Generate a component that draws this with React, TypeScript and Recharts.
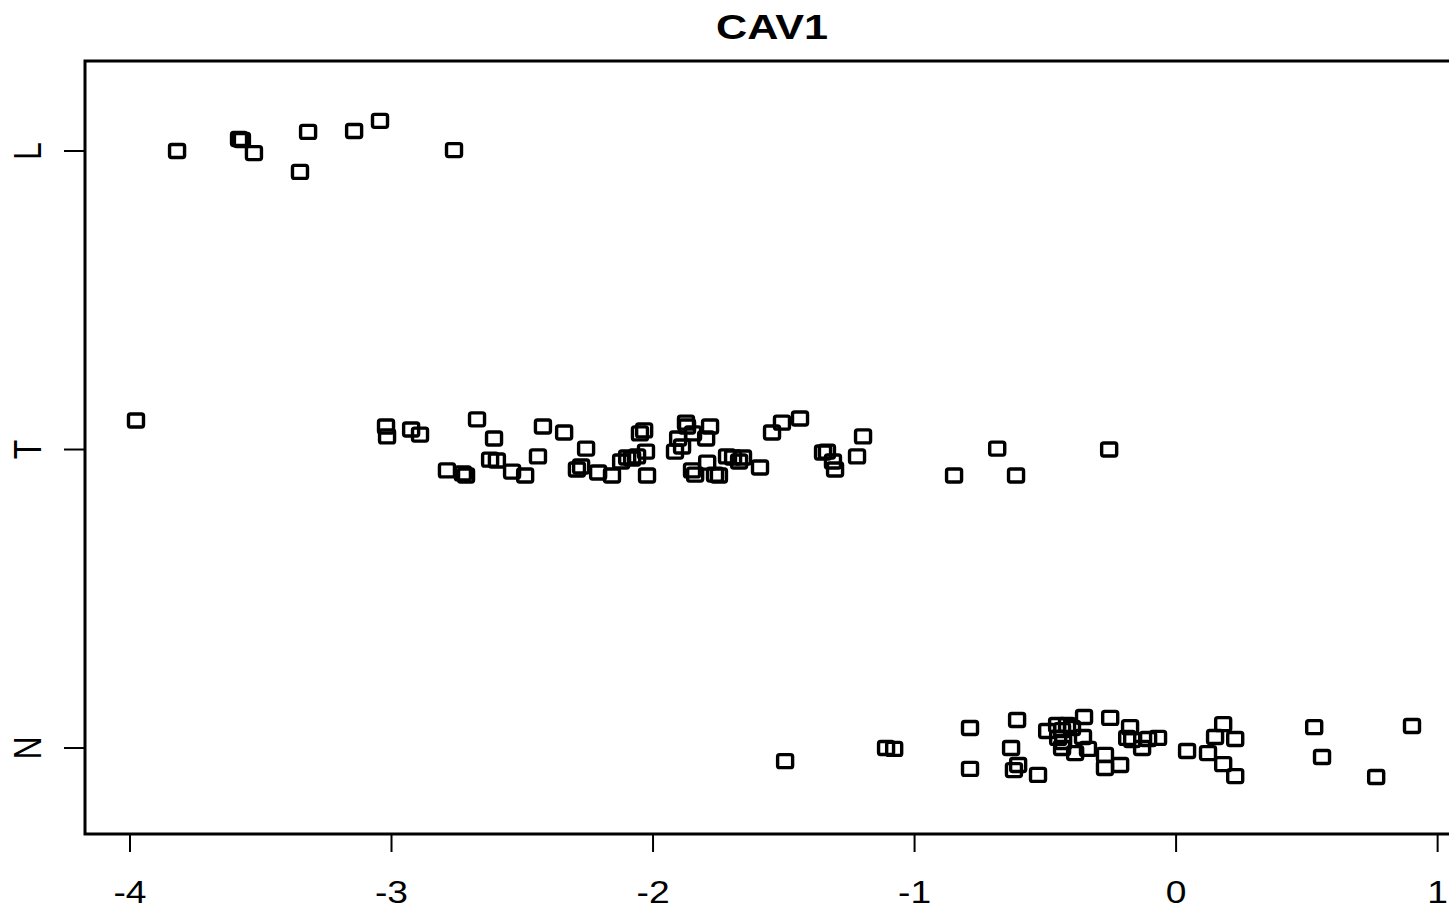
import { ScatterChart, Scatter, XAxis, YAxis, ReferenceArea } from 'recharts';

const groups = ['N', 'T', 'L'];
const xTicks = [-4, -3, -2, -1, 0, 1];
const xDomain = [-4.172, 1.097];
const yDomain = [0.712, 3.3015];

// L group (level 3)
const lValues = [-3.82, -3.583, -3.572, -3.526, -3.35, -3.319, -3.143, -3.044, -2.761];
const lJitter = [0.0, 0.04, 0.037, -0.007, -0.07, 0.064, 0.067, 0.101, 0.003];

// T group (level 2)
const tValues = [
  -3.977, -3.021, -3.017, -2.925, -2.891, -2.788, -2.727, -2.715, -2.673, -2.608,
  -2.623, -2.597, -2.539, -2.489, -2.44, -2.421, -2.34, -2.256, -2.291, -2.275,
  -2.21, -2.157, -2.122, -2.099, -2.08, -2.061, -2.05, -2.034, -2.027, -2.023,
  -1.916, -1.904, -1.874, -1.87, -1.889, -1.847, -1.782, -1.797, -1.851, -1.839,
  -1.793, -1.763, -1.748, -1.717, -1.694, -1.656, -1.591, -1.545, -1.507, -1.438,
  -1.35, -1.335, -1.312, -1.304, -1.22, -1.197, -0.849, -0.684, -0.612, -0.256,
  -1.671,
];
const tJitter = [
  0.097, 0.077, 0.044, 0.067, 0.05, -0.07, -0.08, -0.087, 0.101, 0.037,
  -0.034, -0.037, -0.074, -0.087, -0.023, 0.077, 0.057, 0.003, -0.067, -0.057,
  -0.077, -0.087, -0.04, -0.027, -0.03, -0.023, 0.054, 0.064, -0.007, -0.087,
  -0.007, 0.037, 0.09, 0.077, 0.01, 0.054, 0.077, 0.037, -0.07, -0.084,
  -0.044, -0.084, -0.087, -0.023, -0.027, -0.027, -0.06, 0.057, 0.09, 0.104,
  -0.01, -0.007, -0.04, -0.067, -0.023, 0.044, -0.087, 0.003, -0.087, 0.0,
  -0.04,
];

// N group (level 1)
const nValues = [
  -1.495, -1.109, -1.078, -0.788, -0.788, -0.608, -0.631, -0.62, -0.604, -0.528,
  -0.493, -0.455, -0.436, -0.417, -0.398, -0.451, -0.432, -0.436, -0.386, -0.352,
  -0.356, -0.337, -0.272, -0.272, -0.214, -0.252, -0.176, -0.187, -0.168, -0.13,
  -0.107, -0.069, 0.042, 0.122, 0.18, 0.149, 0.226, 0.18, 0.226, 0.528,
  0.558, 0.765, 0.902,
];
const nJitter = [
  -0.044, 0.0, -0.003, 0.067, -0.07, 0.094, 0.0, -0.074, -0.057, -0.09,
  0.057, 0.077, 0.06, 0.077, 0.067, 0.034, 0.02, 0.0, -0.017, 0.104,
  0.037, -0.003, -0.023, -0.067, -0.057, 0.101, 0.07, 0.034, 0.027, 0.0,
  0.03, 0.034, -0.01, -0.017, 0.08, 0.037, 0.03, -0.054, -0.094, 0.07,
  -0.03, -0.097, 0.074,
];

const toPoints = (values: number[], jitter: number[], level: number) =>
  values.map((v, i) => ({ x: v, y: level + jitter[i] }));

const nData = toPoints(nValues, nJitter, 1);
const tData = toPoints(tValues, tJitter, 2);
const lData = toPoints(lValues, lJitter, 3);

const FONT = '"Liberation Sans", Arial, sans-serif';

const Box = (props: any) => {
  const { cx, cy } = props;
  if (cx == null || cy == null) return null;
  return (
    <rect x={cx - 7.5} y={cy - 6.5} width={15} height={13} rx={2}
      fill="none" stroke="#000" strokeWidth={3.4} />
  );
};

const XTick = (props: any) => {
  const { x, y, payload } = props;
  return (
    <text transform={`translate(${x},${y}) scale(1.2,1)`} textAnchor="middle"
      fontFamily={FONT} fontSize={31} fill="#000">
      {payload.value}
    </text>
  );
};

const YTick = (props: any) => {
  const { x, y, payload } = props;
  return (
    <text transform={`translate(${x},${y}) scale(1.2,1) rotate(-90)`} textAnchor="middle"
      fontFamily={FONT} fontSize={32} fill="#000">
      {groups[payload.value - 1]}
    </text>
  );
};

export default function App() {
  return (
    <div style={{ position: 'fixed', left: 0, top: 0, width: 1449, height: 910, overflow: 'hidden', background: '#fff' }}>
      <svg width={1449} height={60} style={{ position: 'absolute', left: 0, top: 0 }}>
        <text transform="translate(772,39) scale(1.2,1)" textAnchor="middle"
          fontFamily={FONT} fontWeight="bold" fontSize={36} fill="#000">CAV1</text>
      </svg>
      <ScatterChart width={1480} height={910} margin={{ top: 61, right: 17, bottom: 0, left: 0 }}
        style={{ position: 'absolute', left: 0, top: 0 }}>
        <XAxis type="number" dataKey="x" domain={xDomain} ticks={xTicks} allowDataOverflow
          height={76} axisLine={false} tickSize={18} tickMargin={51}
          tickLine={{ stroke: '#000', strokeWidth: 2 }} tick={<XTick />} />
        <YAxis type="number" dataKey="y" domain={yDomain} ticks={[1, 2, 3]} allowDataOverflow
          width={85} axisLine={false} tickSize={21} tickMargin={23}
          tickLine={{ stroke: '#000', strokeWidth: 2 }} tick={<YTick />} />
        <ReferenceArea x1={xDomain[0]} x2={xDomain[1]} y1={yDomain[0]} y2={yDomain[1]}
          fill="none" fillOpacity={0} stroke="#000" strokeWidth={3} ifOverflow="visible" />
        <Scatter data={nData} shape={<Box />} isAnimationActive={false} />
        <Scatter data={tData} shape={<Box />} isAnimationActive={false} />
        <Scatter data={lData} shape={<Box />} isAnimationActive={false} />
      </ScatterChart>
    </div>
  );
}
